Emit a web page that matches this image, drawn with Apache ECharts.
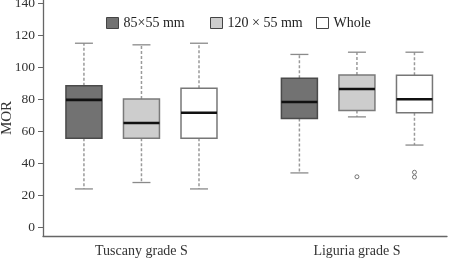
<!DOCTYPE html>
<html lang="en">
<head>
    <meta charset="UTF-8">
    <script src="https://cdn.jsdelivr.net/npm/echarts@6/dist/echarts.min.js"></script>
    <title>MOR boxplot</title>
    <style>
        html, body { margin: 0; padding: 0; background: #fff; }
        #main { width: 449px; height: 260px; }
    </style>
</head>
<body>
<div id="main"></div>
<script>
    var categories = ['Tuscany grade S', 'Liguria grade S']
    var sizes = ['85×55 mm', '120 × 55 mm', 'Whole']
    // [low whisker, Q1, median, Q3, high whisker] per category
    var box85 = [[24, 55.6, 79.6, 88.5, 115], [34, 68, 78.3, 93.1, 108]]
    var box120 = [[28, 55.6, 65.2, 80.2, 114], [69, 73, 86.4, 95.2, 109.4]]
    var boxWhole = [[24, 55.6, 71.6, 86.9, 115], [51.4, 71.6, 80, 95, 109.4]]
    // outliers: [category index, value]
    var out85 = []
    var out120 = [[1, 31.6]]
    var outWhole = [[1, 34.4], [1, 31.4]]
    var yTicks = [0, 20, 40, 60, 80, 100, 120, 140]

    var fills = ['#727272', '#cdcdcd', '#ffffff']
    var borders = ['#4a4a4a', '#7a7a7a', '#777777']
    var font = 'Liberation Serif'
    var step = 0.267   // spacing of boxes inside a group
    var boxFrac = 0.167
    var legendLeft = [101, 205, 311]

    function boxData(arr, k) {
        return arr.map(function (b, g) {
            return [g + (k - 1) * step].concat(b)
        })
    }
    function outData(arr, k) {
        return arr.map(function (o) {
            return [o[0] + (k - 1) * step, o[1]]
        })
    }

    function makeRender(k) {
        return function (params, api) {
            var x = api.value(0)
            var lo = api.coord([x, api.value(1)])
            var q1 = api.coord([x, api.value(2)])
            var md = api.coord([x, api.value(3)])
            var q3 = api.coord([x, api.value(4)])
            var hi = api.coord([x, api.value(5)])
            var bw = api.size([1, 0])[0] * boxFrac
            var cx = lo[0]
            var cap = bw / 2
            var dash = {stroke: '#9a9a9a', lineWidth: 1.5, lineDash: [3, 2]}
            var capStyle = {stroke: '#8a8a8a', lineWidth: 1.3}
            return {
                type: 'group',
                children: [
                    {type: 'line', shape: {x1: cx, y1: q3[1], x2: cx, y2: hi[1]}, style: dash},
                    {type: 'line', shape: {x1: cx, y1: q1[1], x2: cx, y2: lo[1]}, style: dash},
                    {type: 'line', shape: {x1: cx - cap / 2, y1: hi[1], x2: cx + cap / 2, y2: hi[1]}, style: capStyle},
                    {type: 'line', shape: {x1: cx - cap / 2, y1: lo[1], x2: cx + cap / 2, y2: lo[1]}, style: capStyle},
                    {type: 'rect', shape: {x: cx - bw / 2, y: q3[1], width: bw, height: q1[1] - q3[1]},
                        style: {fill: fills[k], stroke: borders[k], lineWidth: 1.5}},
                    {type: 'line', shape: {x1: cx - bw / 2, y1: md[1], x2: cx + bw / 2, y2: md[1]},
                        style: {stroke: '#111', lineWidth: 2.6}}
                ]
            }
        }
    }

    var series = []
    var boxes = [box85, box120, boxWhole]
    var outs = [out85, out120, outWhole]
    for (var k = 0; k < 3; k++) {
        series.push({
            name: sizes[k],
            type: 'custom',
            renderItem: makeRender(k),
            itemStyle: {color: fills[k]},
            encode: {x: 0, y: [1, 2, 3, 4, 5]},
            data: boxData(boxes[k], k)
        })
        if (outs[k].length) {
            series.push({
                type: 'scatter',
                symbol: 'circle',
                symbolSize: 4,
                itemStyle: {color: '#fff', borderColor: '#555', borderWidth: 1},
                data: outData(outs[k], k)
            })
        }
    }

    // one legend per item so each square sits where the original has it
    var legends = sizes.map(function (s, i) {
        return {
            top: 11,
            left: legendLeft[i],
            itemWidth: 12,
            itemHeight: 11,
            itemGap: 5,
            icon: 'rect',
            selectedMode: false,
            textStyle: {fontFamily: font, fontSize: 14, color: '#222'},
            data: [{name: s, itemStyle: {color: fills[i], borderColor: '#444', borderWidth: 1}}]
        }
    })

    var myChart = echarts.init(document.getElementById('main'))
    var option = {
        animation: false,
        textStyle: {fontFamily: font},
        grid: {left: 43, right: 2, top: 0, bottom: 24, outerBoundsMode: 'none', containLabel: false},
        legend: legends,
        xAxis: {
            type: 'value',
            min: -0.457,
            max: 1.418,
            axisLine: {show: true, onZero: false, lineStyle: {color: '#666', width: 1.3}},
            axisTick: {show: false},
            splitLine: {show: false},
            axisLabel: {
                customValues: [0, 1],
                formatter: function (v) { return categories[Math.round(v)] },
                fontFamily: font, fontSize: 14, color: '#333', margin: 8
            }
        },
        yAxis: {
            type: 'value',
            min: -5.4,
            max: 142,
            name: 'MOR',
            nameLocation: 'middle',
            nameGap: 28,
            nameMoveOverlap: false,
            nameTextStyle: {fontFamily: font, fontSize: 15, color: '#333'},
            axisLine: {show: true, onZero: false, lineStyle: {color: '#666', width: 1.3}},
            axisTick: {show: true, customValues: yTicks, length: 5, lineStyle: {color: '#666'}},
            splitLine: {show: false},
            axisLabel: {customValues: yTicks, fontFamily: font, fontSize: 13.5, color: '#333', margin: 8}
        },
        series: series
    }
    myChart.setOption(option)
</script>
</body>
</html>
